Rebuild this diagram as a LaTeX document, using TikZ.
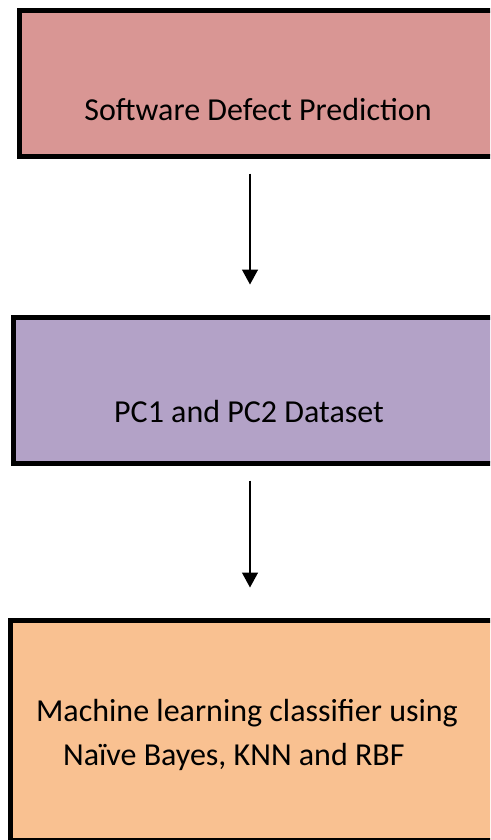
\documentclass[tikz,border=0pt]{standalone}
\usepackage{fontspec}
\setmainfont{Carlito}
\usetikzlibrary{arrows.meta,positioning}

\definecolor{boxpink}{HTML}{D99694}
\definecolor{boxlilac}{HTML}{B3A2C7}
\definecolor{boxorange}{HTML}{F9C191}

\tikzset{
  stagebox/.style={draw=black, line width=5pt, anchor=north west, inner sep=0pt},
  stagetext/.style={inner sep=0pt, font=\fontsize{32}{44}\selectfont},
  flow/.style={-{Triangle[width=16pt,length=15pt]}, line width=1.4pt, shorten <=15pt, shorten >=30pt}
}

\begin{document}
\begin{tikzpicture}[x=1pt,y=1pt]
  \useasboundingbox (0,0) rectangle (490,-840);
  \clip (0,0) rectangle (490,-840);
  % boxes
  \node[stagebox, fill=boxpink, minimum width=510pt, minimum height=145pt] (sdpbox) at (16.5,-8.5) {};
  \node[stagebox, fill=boxlilac, minimum width=510pt, minimum height=146pt] (pcbox) at (10.5,-314.5) {};
  \node[stagebox, fill=boxorange, minimum width=510pt, minimum height=220pt] (mlbox) at (7.5,-617.5) {};
  % texts
  \node[stagetext] (sdptext) at (258,-110) {Software Defect Prediction};
  \node[stagetext] (pctext) at (249,-412) {PC1 and PC2 Dataset};
  \node[stagetext, align=left] (mltext) at (247,-735) {Machine learning classifier using\\\hspace*{27pt}Naïve Bayes, KNN and RBF};
  % arrows
  \coordinate (axis) at (250,0);
  \draw[flow] (sdpbox.south -| axis) -- (pcbox.north -| axis);
  \draw[flow] (pcbox.south -| axis) -- (mlbox.north -| axis);
\end{tikzpicture}
\end{document}
